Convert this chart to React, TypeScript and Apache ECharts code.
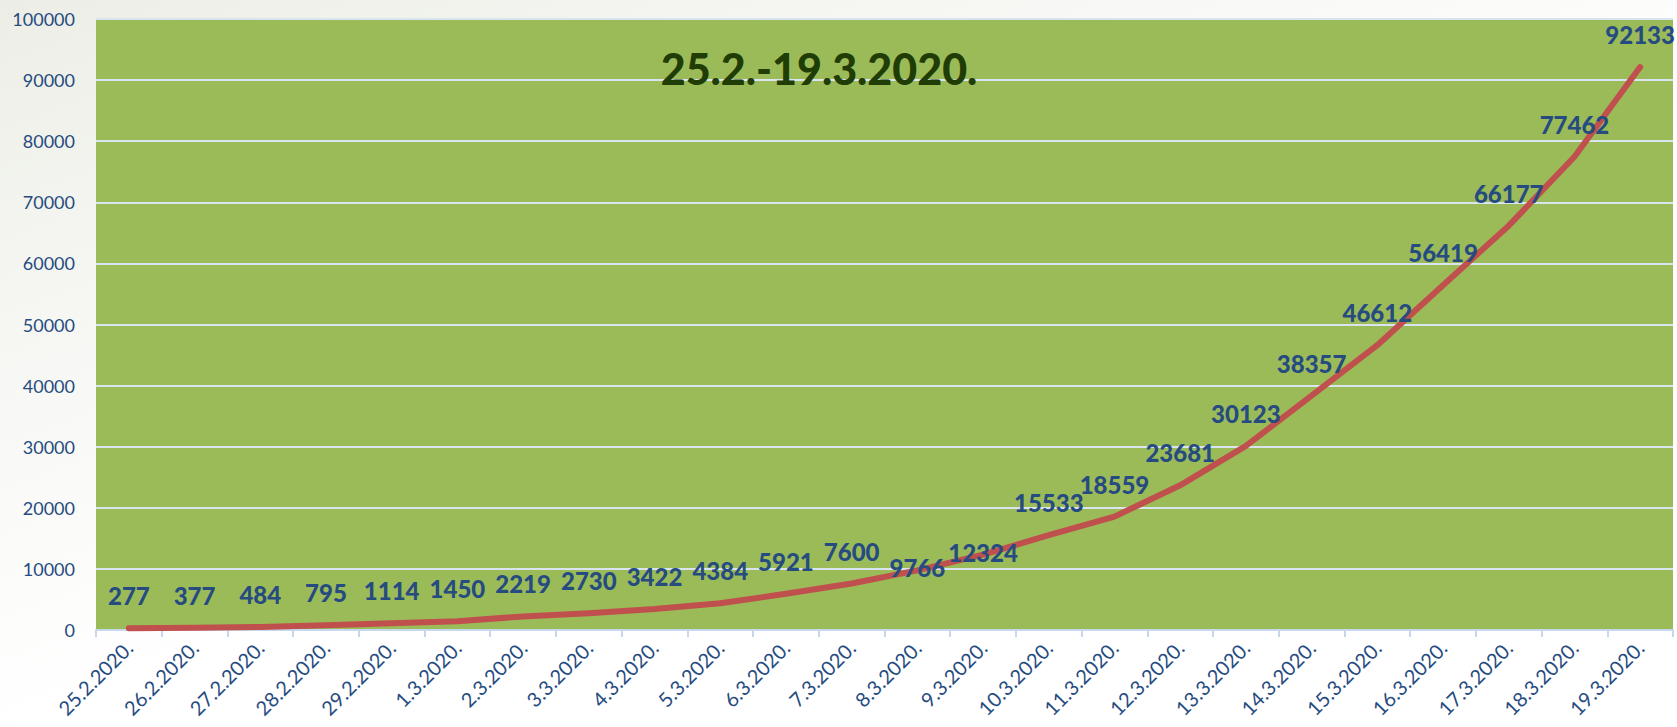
import React, { useEffect, useRef } from "react";
import * as echarts from "echarts";

const categories = [
  "25.2.2020.", "26.2.2020.", "27.2.2020.", "28.2.2020.", "29.2.2020.",
  "1.3.2020.", "2.3.2020.", "3.3.2020.", "4.3.2020.", "5.3.2020.",
  "6.3.2020.", "7.3.2020.", "8.3.2020.", "9.3.2020.", "10.3.2020.",
  "11.3.2020.", "12.3.2020.", "13.3.2020.", "14.3.2020.", "15.3.2020.",
  "16.3.2020.", "17.3.2020.", "18.3.2020.", "19.3.2020.",
];
const values = [
  277, 377, 484, 795, 1114, 1450, 2219, 2730, 3422, 4384, 5921, 7600,
  9766, 12324, 15533, 18559, 23681, 30123, 38357, 46612, 56419, 66177,
  77462, 92133,
];
// labels that sit on the line instead of above it
const loweredLabels = ["8.3.2020.", "9.3.2020."];
const titleText = "25.2.-19.3.2020.";

const FONT = "Lato, 'DejaVu Sans', sans-serif";
const BLUE = "#264b80";

export default function App() {
  const ref = useRef<HTMLDivElement>(null);
  useEffect(() => {
    if (!ref.current) return;
    const chart = echarts.init(ref.current, null, { renderer: "svg" });
    const data = values.map((v, i) =>
      loweredLabels.includes(categories[i])
        ? { value: v, label: { offset: [0, 30] } }
        : { value: v }
    );
    chart.setOption({
      animation: false,
      backgroundColor: "transparent",
      textStyle: { fontFamily: FONT },
      grid: {
        left: 96,
        right: 4,
        top: 19,
        bottom: 97,
        show: true,
        backgroundColor: "#9bbb59",
        borderWidth: 0,
      },
      xAxis: {
        type: "category",
        data: categories,
        boundaryGap: true,
        axisLine: { show: true, lineStyle: { color: "#c8d8ec", width: 2 } },
        axisTick: {
          show: true,
          alignWithLabel: false,
          length: 7,
          lineStyle: { color: "#c8d8ec", width: 2 },
        },
        axisLabel: {
          rotate: 45,
          margin: 14,
          interval: 0,
          color: BLUE,
          fontSize: 20,
          fontFamily: FONT,
        },
      },
      yAxis: {
        type: "value",
        min: 0,
        max: 100000,
        interval: 10000,
        axisLine: { show: false },
        axisTick: { show: false },
        axisLabel: {
          margin: 21,
          color: BLUE,
          fontSize: 18,
          fontFamily: FONT,
          formatter: (v: number) => String(v),
        },
        splitLine: { show: true, lineStyle: { color: "#d9e4ef", width: 2 } },
      },
      graphic: [
        {
          type: "text",
          x: 819,
          y: 68,
          style: {
            text: titleText,
            fill: "#1f3d05",
            font: `900 43px ${FONT}`,
            textAlign: "center",
            textVerticalAlign: "middle",
          },
          z: 10,
        },
      ],
      series: [
        {
          type: "line",
          data,
          showSymbol: true,
          symbol: "circle",
          symbolSize: 1,
          itemStyle: { color: "rgba(0,0,0,0)", borderWidth: 0 },
          lineStyle: { color: "#c0504d", width: 6, cap: "round", join: "round" },
          label: {
            show: true,
            position: "top",
            distance: 20,
            color: BLUE,
            fontSize: 24,
            fontWeight: 900,
            fontFamily: FONT,
          },
          z: 3,
        },
      ],
    });
    return () => chart.dispose();
  }, []);
  return (
    <div
      style={{
        position: "fixed",
        left: 0,
        top: 0,
        width: 1677,
        height: 727,
        background:
          "linear-gradient(160deg, #eceee6 0%, #f6f7f3 25%, #ffffff 55%, #ffffff 100%)",
      }}
    >
      <div ref={ref} style={{ width: 1677, height: 727 }} />
    </div>
  );
}
